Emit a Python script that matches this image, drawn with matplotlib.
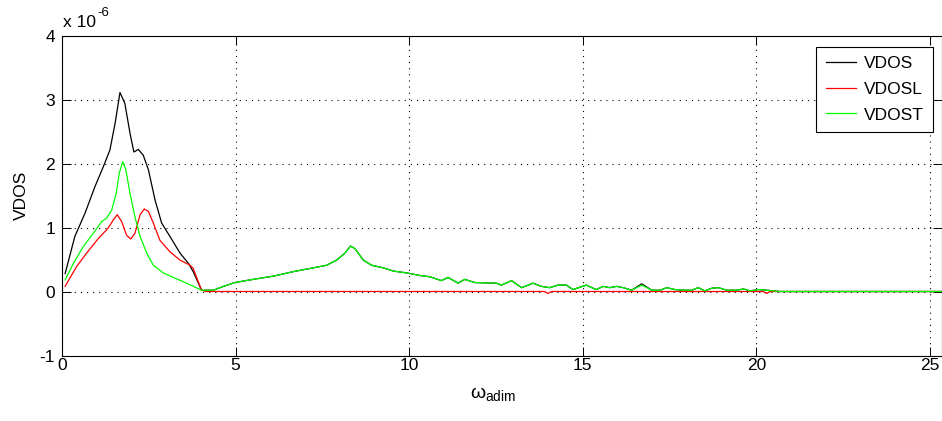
import matplotlib
matplotlib.use('Agg')
import matplotlib.pyplot as plt

plt.rcParams['font.family'] = ['Liberation Sans', 'DejaVu Sans']
plt.rcParams['mathtext.fontset'] = 'custom'
plt.rcParams['mathtext.rm'] = 'Liberation Sans'
plt.rcParams['mathtext.it'] = 'Liberation Sans'
plt.rcParams['axes.unicode_minus'] = False

# values in units of 1e-6
# VDOS (total)
w_vdos = [0.09, 0.37, 0.66, 0.95, 1.19, 1.38, 1.53, 1.67, 1.81, 1.96, 2.07, 2.20,
          2.34, 2.49, 2.68, 2.87, 3.11, 3.40, 3.64, 3.78, 4.02, 4.36, 4.65, 4.98,
          5.51, 6.09, 6.66, 7.24, 7.62, 7.91, 8.15, 8.31, 8.44, 8.68, 8.92, 9.25,
          9.54, 9.93, 10.31, 10.60, 10.93, 11.12, 11.41, 11.60, 11.89, 12.51, 12.66,
          12.95, 13.24, 13.57, 13.81, 14.05, 14.29, 14.53, 14.72, 15.10, 15.39,
          15.59, 15.78, 15.98, 16.17, 16.41, 16.70, 16.99, 17.23, 17.42, 17.66,
          17.90, 18.14, 18.33, 18.52, 18.71, 18.91, 19.15, 19.44, 19.63, 19.82,
          20.06, 20.30, 20.49, 20.68, 25.35]
vdos = [0.28, 0.86, 1.22, 1.64, 1.95, 2.21, 2.63, 3.11, 2.94, 2.47, 2.18, 2.22,
        2.13, 1.90, 1.43, 1.07, 0.86, 0.60, 0.44, 0.31, 0.02, 0.02, 0.08, 0.14,
        0.19, 0.24, 0.31, 0.37, 0.41, 0.49, 0.60, 0.71, 0.67, 0.49, 0.41, 0.37,
        0.32, 0.29, 0.25, 0.23, 0.17, 0.22, 0.13, 0.19, 0.14, 0.13, 0.10,
        0.17, 0.06, 0.13, 0.08, 0.06, 0.10, 0.10, 0.03, 0.10, 0.03,
        0.08, 0.06, 0.08, 0.06, 0.02, 0.12, 0.02, 0.02, 0.06, 0.03,
        0.02, 0.02, 0.06, 0.01, 0.05, 0.06, 0.02, 0.02, 0.04, 0.01,
        0.03, 0.02, 0.01, 0.0, 0.0]

# VDOSL (longitudinal)
w_vdosl = [0.09, 0.42, 0.71, 1.05, 1.33, 1.48, 1.59, 1.72, 1.86, 1.98, 2.10, 2.25,
           2.37, 2.49, 2.63, 2.82, 3.11, 3.40, 3.69, 3.78, 4.02, 4.15, 13.9, 14.0,
           14.1, 20.2, 20.3, 20.4, 25.35]
vdosl = [0.08, 0.39, 0.60, 0.83, 0.99, 1.12, 1.20, 1.09, 0.88, 0.82, 0.91, 1.20,
         1.29, 1.25, 1.07, 0.80, 0.62, 0.49, 0.41, 0.36, 0.02, 0.0, 0.0, -0.03,
         0.0, 0.0, -0.03, 0.0, 0.0]

# VDOST (transverse)
w_vdost = [0.09, 0.33, 0.61, 0.90, 1.14, 1.29, 1.43, 1.56, 1.65, 1.75, 1.84, 1.96,
           2.10, 2.25, 2.44, 2.63, 2.92, 3.25, 3.59, 4.02, 4.36, 4.65, 4.98,
           5.51, 6.09, 6.66, 7.24, 7.62, 7.91, 8.15, 8.31, 8.44, 8.68, 8.92, 9.25,
           9.54, 9.93, 10.31, 10.60, 10.93, 11.12, 11.41, 11.60, 11.89, 12.51, 12.66,
           12.95, 13.24, 13.57, 13.81, 14.05, 14.29, 14.53, 14.72, 15.10, 15.39,
           15.59, 15.78, 15.98, 16.17, 16.41, 16.70, 16.99, 17.23, 17.42, 17.66,
           17.90, 18.14, 18.33, 18.52, 18.71, 18.91, 19.15, 19.44, 19.63, 19.82,
           20.06, 20.30, 20.49, 20.68, 25.35]
vdost = [0.18, 0.44, 0.70, 0.91, 1.09, 1.15, 1.27, 1.53, 1.85, 2.03, 1.90, 1.53,
         1.17, 0.86, 0.60, 0.41, 0.29, 0.21, 0.13, 0.02, 0.02, 0.08, 0.14,
         0.19, 0.24, 0.31, 0.37, 0.41, 0.49, 0.60, 0.71, 0.67, 0.49, 0.41, 0.37,
         0.32, 0.29, 0.25, 0.23, 0.17, 0.22, 0.13, 0.19, 0.14, 0.13, 0.10,
         0.17, 0.06, 0.13, 0.08, 0.06, 0.10, 0.10, 0.03, 0.10, 0.03,
         0.08, 0.06, 0.08, 0.06, 0.02, 0.10, 0.02, 0.02, 0.06, 0.03,
         0.02, 0.02, 0.06, 0.01, 0.05, 0.06, 0.02, 0.02, 0.04, 0.01,
         0.03, 0.02, 0.01, 0.0, 0.0]

x_ticks = [0, 5, 10, 15, 20, 25]
y_ticks = [-1, 0, 1, 2, 3, 4]


def plot_vdos():
    fig = plt.figure(figsize=(9.42, 4.21), dpi=100)
    ax = fig.add_axes([62 / 942, 1 - 355.5 / 421, 880 / 942, 320 / 421])

    ax.plot(w_vdos, vdos, color='k', lw=0.9, label='VDOS')
    ax.plot(w_vdosl, vdosl, color='#ff0000', lw=0.9, label='VDOSL')
    ax.plot(w_vdost, vdost, color='#00ff00', lw=0.9, label='VDOST')

    ax.set_xlim(0, 25.35)
    ax.set_ylim(-1, 4)
    ax.set_xticks(x_ticks)
    ax.set_yticks(y_ticks)
    ax.grid(True, color='k', lw=0.8, linestyle=(0, (1, 4.5)))
    ax.tick_params(direction='in', length=6.3, width=0.7, top=True, right=True,
                   labelsize=12.5, colors='k')
    ax.tick_params(axis='x', pad=2)
    ax.tick_params(axis='y', pad=5)
    for s in ax.spines.values():
        s.set_linewidth(0.8)

    ax.set_ylabel('VDOS', fontsize=12.5)
    ax.yaxis.set_label_coords(-0.038, 0.5)
    ax.set_xlabel(r'$\omega_{\mathrm{adim}}$', fontsize=14)
    ax.xaxis.set_label_coords(0.49, -0.092)

    # exponent label, MATLAB style
    fig.text(63 / 942, 1 - 27 / 421, 'x 10', fontsize=12.5,
             va='baseline', ha='left')
    fig.text(97 / 942, 1 - 16 / 421, '-6', fontsize=9.5,
             va='baseline', ha='left')

    leg = ax.legend(loc='upper right', bbox_to_anchor=(0.990, 0.965),
                    borderaxespad=0, fancybox=False, framealpha=1,
                    edgecolor='k', fontsize=12.5, handlelength=1.75,
                    handletextpad=0.45, labelspacing=0.6, borderpad=0.55)
    leg.get_frame().set_linewidth(0.8)

    fig.savefig('out.png', dpi=100)


if __name__ == '__main__':
    plot_vdos()
